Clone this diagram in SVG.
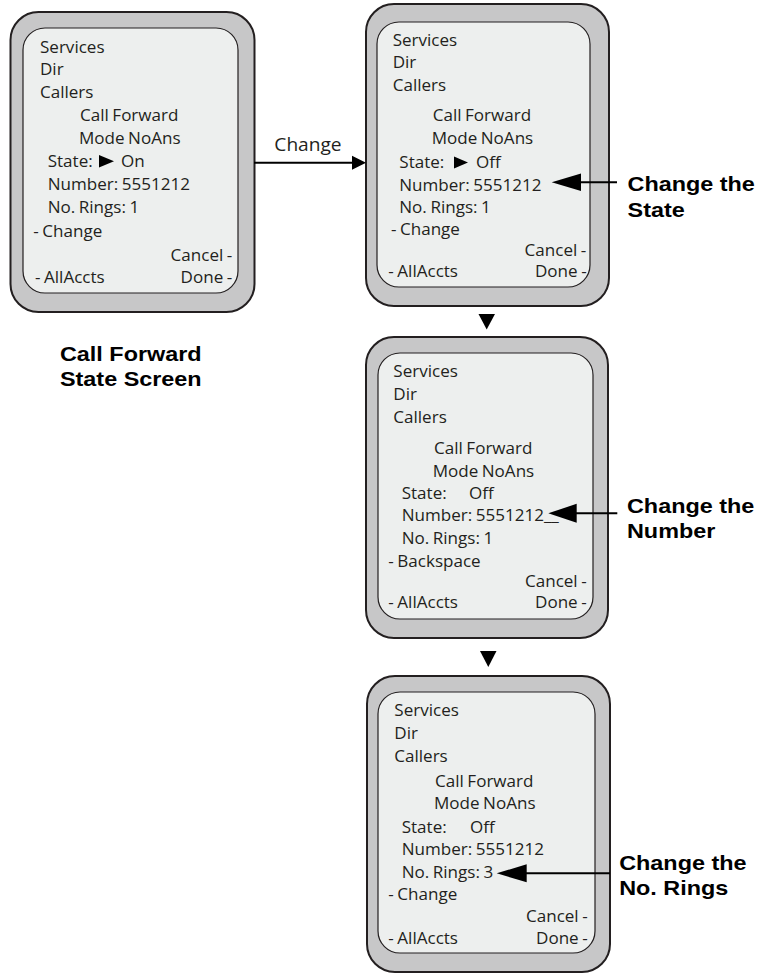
<svg xmlns="http://www.w3.org/2000/svg" width="761" height="975" viewBox="0 0 761 975">
<style>
.outer{fill:#c7c7c8;stroke:#231f20;stroke-width:2}
.inner{fill:#edefee;stroke:#231f20;stroke-width:1.2}
.t{font-family:"Open Sans","Noto Sans",sans-serif;font-size:15.5px;fill:#231f20;word-spacing:-0.8px}
.e{text-anchor:end}
.lbl{font-family:"Liberation Sans",Arial,sans-serif;font-weight:bold;font-size:19.5px;fill:#000}
.cl{font-family:"Open Sans","Noto Sans",sans-serif;font-size:17.4px;fill:#231f20}
.ln{stroke:#000;stroke-width:2;fill:none}
.hd{fill:#000}
</style>
<rect width="761" height="975" fill="#fff"/>

<g id="screen1">
<rect class="outer" x="10.5" y="12" width="244" height="300" rx="28"/>
<rect class="inner" x="23" y="28" width="215" height="265" rx="22"/>
<polygon class="hd" points="99,155 114,161.3 99,167.5"/>
<g transform="scale(1.1,1)" class="t">
<text x="36.36" y="52.7">Services</text>
<text x="36.36" y="75.3">Dir</text>
<text x="36.36" y="98.3">Callers</text>
<text x="72.73" y="121">Call Forward</text>
<text x="71.82" y="144">Mode NoAns</text>
<text x="43.36" y="167">State:</text>
<text x="110" y="167">On</text>
<text x="43.36" y="190">Number: 5551212</text>
<text x="43.36" y="213">No. Rings: 1</text>
<text x="30.27" y="237">- Change</text>
<text class="e" x="211.18" y="261">Cancel -</text>
<text x="31.82" y="283.5">- AllAccts</text>
<text class="e" x="211.18" y="283.5">Done -</text>
</g>
</g>

<g id="screen2">
<rect class="outer" x="366" y="4" width="243" height="302" rx="28"/>
<rect class="inner" x="377" y="22" width="213" height="265" rx="22"/>
<polygon class="hd" points="454,156.5 468,162.5 454,168.5"/>
<g transform="scale(1.1,1)" class="t">
<text x="357" y="46">Services</text>
<text x="357" y="68.3">Dir</text>
<text x="357" y="91.5">Callers</text>
<text x="393.36" y="121">Call Forward</text>
<text x="392.45" y="144">Mode NoAns</text>
<text x="363" y="168">State:</text>
<text x="432.73" y="168">Off</text>
<text x="363" y="190.7">Number: 5551212</text>
<text x="363" y="213.5">No. Rings: 1</text>
<text x="355.45" y="235.5">- Change</text>
<text class="e" x="533" y="256.5">Cancel -</text>
<text x="353" y="277.5">- AllAccts</text>
<text class="e" x="533.3" y="277.5">Done -</text>
</g>
</g>

<g id="screen3">
<rect class="outer" x="366" y="337" width="242" height="301" rx="28"/>
<rect class="inner" x="378" y="353" width="215" height="266" rx="22"/>
<g transform="scale(1.1,1)" class="t">
<text x="357.55" y="377.5">Services</text>
<text x="357.55" y="400.3">Dir</text>
<text x="357.55" y="423.5">Callers</text>
<text x="394.55" y="454">Call Forward</text>
<text x="393.36" y="476.8">Mode NoAns</text>
<text x="365.18" y="498.6">State:</text>
<text x="426.36" y="498.6">Off</text>
<text x="365.18" y="521">Number: 5551212__</text>
<text x="365.18" y="543.6">No. Rings: 1</text>
<text x="353" y="566.8">- Backspace</text>
<text class="e" x="533.36" y="587">Cancel -</text>
<text x="353" y="608.5">- AllAccts</text>
<text class="e" x="533.36" y="608.5">Done -</text>
</g>
</g>

<g id="screen4">
<rect class="outer" x="367" y="676" width="243" height="296" rx="28"/>
<rect class="inner" x="378" y="692" width="217" height="261" rx="22"/>
<g transform="scale(1.1,1)" class="t">
<text x="358.45" y="716">Services</text>
<text x="358.45" y="739.3">Dir</text>
<text x="358.45" y="762">Callers</text>
<text x="395.45" y="786.7">Call Forward</text>
<text x="394.55" y="809.3">Mode NoAns</text>
<text x="365.18" y="832.7">State:</text>
<text x="427.27" y="832.7">Off</text>
<text x="365.18" y="855">Number: 5551212</text>
<text x="365.18" y="878">No. Rings: 3</text>
<text x="353" y="900">- Change</text>
<text class="e" x="534.27" y="922">Cancel -</text>
<text x="353" y="944.3">- AllAccts</text>
<text class="e" x="534.27" y="944.3">Done -</text>
</g>
</g>

<g id="connectors">
<line class="ln" x1="254" y1="162.7" x2="353" y2="162.7"/>
<polygon class="hd" points="366,162.7 352,155.7 352,169.7"/>
<g transform="scale(1.1,1)"><text class="cl" x="249.4" y="150.7">Change</text></g>
<polygon class="hd" points="478.5,314 495,314 486.7,329.5"/>
<polygon class="hd" points="480,651 496.5,651 488.3,667"/>
<line class="ln" x1="580" y1="182.3" x2="617" y2="182.3"/>
<polygon class="hd" points="551.7,182.3 581,173.5 581,191.1"/>
<line class="ln" x1="576" y1="513.3" x2="617.3" y2="513.3"/>
<polygon class="hd" points="548.3,513.3 576.7,503.8 576.7,522.8"/>
<line class="ln" x1="526" y1="873.3" x2="610" y2="873.3"/>
<polygon class="hd" points="496.7,873.3 526.7,864.3 526.7,882.3"/>
</g>

<g id="labels" transform="scale(1.2,1)">
<text class="lbl" x="50" y="361.5">Call Forward</text>
<text class="lbl" x="50" y="386.5">State Screen</text>
<text class="lbl" x="523" y="191">Change the</text>
<text class="lbl" x="523" y="217">State</text>
<text class="lbl" x="522.5" y="513">Change the</text>
<text class="lbl" x="522.5" y="538.5">Number</text>
<text class="lbl" x="516" y="870">Change the</text>
<text class="lbl" x="516" y="895">No. Rings</text>
</g>
</svg>
